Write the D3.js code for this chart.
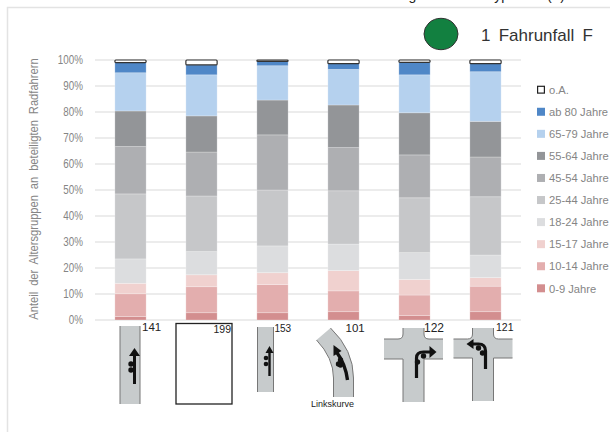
<!DOCTYPE html>
<html><head><meta charset="utf-8">
<script src="https://cdn.jsdelivr.net/npm/d3@7/dist/d3.min.js"></script>
<style>html,body{margin:0;padding:0;background:#fff;overflow:hidden}svg{display:block}</style>
</head><body><div id="c"></div>
<script>
const categories = ["141","199","153","101","122","121"];
const seriesNames = ["0-9 Jahre","10-14 Jahre","15-17 Jahre","18-24 Jahre","25-44 Jahre","45-54 Jahre","55-64 Jahre","65-79 Jahre","ab 80 Jahre","o.A."];
const age0_9   = [1.3,2.8,2.8,3.2,1.7,3.2];
const age10_14 = [8.8,10.0,10.8,8.0,7.9,9.8];
const age15_17 = [4.0,4.6,4.6,7.8,6.0,3.3];
const age18_24 = [9.4,8.9,10.3,10.2,10.3,8.7];
const age25_44 = [25.0,21.4,21.5,20.5,21.1,22.4];
const age45_54 = [18.2,16.9,21.2,16.6,16.5,15.3];
const age55_64 = [13.7,13.9,13.4,16.4,16.2,13.7];
const age65_79 = [14.7,15.8,13.2,13.7,14.6,19.1];
const age80    = [3.9,3.8,1.7,2.2,4.8,3.1];
const ageNA    = [1.0,1.9,0.5,1.4,0.9,1.4];
const allSeries = [age0_9,age10_14,age15_17,age18_24,age25_44,age45_54,age55_64,age65_79,age80,ageNA];
const colors = ["#d38e8f","#e3aeae","#f0d1cf","#dcdddf","#c6c7c9","#aeafb2","#939598","#b5d1ee","#4f87c7","#ffffff"];
const yTicks = [0,10,20,30,40,50,60,70,80,90,100];

const svg = d3.select("#c").append("svg").attr("width",610).attr("height",432);
const SANS = "'Liberation Sans',Arial,sans-serif";

// frame
svg.append("path").attr("d","M7.5,432V7.5H610").attr("fill","none").attr("stroke","#e3e3e3").attr("stroke-width",1.5);
// clipped page title above the frame
svg.append("text").attr("x",565).attr("y",0).attr("text-anchor","end").attr("font-family",SANS).attr("font-size",14).attr("fill","#222").text("Altersverteilung nach Unfalltyp Fälle (F)");

const x = d3.scaleBand().domain(categories).range([95,521]).paddingInner(0.56).paddingOuter(0.28);
const y = d3.scaleLinear().domain([0,100]).range([320,60]);

const narrow = 0.82;
const yAxis = svg.append("g").attr("transform","translate(95,0)")
  .call(d3.axisLeft(y).tickValues(yTicks).tickFormat(d=>d+"%").tickSize(0).tickPadding(12));
yAxis.select(".domain").remove();
yAxis.selectAll("text").attr("font-family",SANS).attr("font-size",12).attr("fill","#858585")
  .attr("x",-12/narrow).attr("transform",`scale(${narrow},1)`);
svg.append("g").selectAll("line").data(yTicks).join("line")
  .attr("x1",95).attr("x2",521).attr("y1",d=>y(d)).attr("y2",d=>y(d))
  .attr("stroke","#e6e6e6").attr("stroke-width",1.5);

svg.append("text").attr("transform","translate(38,189) rotate(-90) scale(0.93,1)").attr("text-anchor","middle")
  .attr("font-family",SANS).attr("font-size",12).attr("fill","#858585").attr("word-spacing",3)
  .text("Anteil der Altersgruppen an beteiligten Radfahrern");

// stacks
const rows = categories.map((c,i)=>{const r={cat:c};seriesNames.forEach((s,k)=>r[s]=allSeries[k][i]);return r;});
const stacked = d3.stack().keys(seriesNames)(rows);
svg.append("g").selectAll("g").data(stacked).join("g").each(function(s,k){
  const isNA = seriesNames[k]==="o.A.";
  d3.select(this).selectAll("rect").data(s).join("rect")
    .attr("x",d=>x(d.data.cat)).attr("width",x.bandwidth())
    .attr("y",d=>y(d[1])).attr("height",d=>y(d[0])-y(d[1]))
    .attr("fill",colors[k])
    .attr("rx",isNA?1:0)
    .attr("stroke",isNA?"#333":"#fff").attr("stroke-opacity",isNA?1:0.3).attr("stroke-width",isNA?1.2:0.8);
});

// legend
const legendOrder = seriesNames.map((n,i)=>({n,c:colors[i]})).reverse();
const ly = d3.scalePoint().domain(legendOrder.map(d=>d.n)).range([89.7,288.3]);
const lg = svg.append("g").selectAll("g").data(legendOrder).join("g").attr("transform",d=>`translate(537,${ly(d.n)})`);
lg.append("rect").attr("x",d=>d.n==="o.A."?0.6:0).attr("y",d=>d.n==="o.A."?-3.4:-4).attr("width",d=>d.n==="o.A."?6.8:8).attr("height",d=>d.n==="o.A."?6.8:8)
  .attr("fill",d=>d.c).attr("stroke",d=>d.n==="o.A."?"#222":"none").attr("stroke-width",1.2);
lg.append("text").attr("x",12).attr("y",4.2).attr("font-family",SANS).attr("font-size",11.2).attr("fill","#858585").text(d=>d.n);

// Fahrunfall marker
svg.append("ellipse").attr("cx",441).attr("cy",34).attr("rx",17).attr("ry",15.7).attr("fill","#128040").attr("stroke","#333").attr("stroke-width",1);
svg.append("text").attr("x",481).attr("y",41).attr("font-family",SANS).attr("font-size",17).attr("word-spacing",3.5).attr("fill","#333").text("1 Fahrunfall F");

// situation sketches below bars, in local coordinates around each bar centre
const ROAD="#c7cbcc", EDGE="#777", INK="#111";
function arrow(g,d,sw=3){
  g.append("path").attr("d",d).attr("fill","none").attr("stroke",INK).attr("stroke-width",sw);
}
function head(g,d){ g.append("path").attr("d",d).attr("fill",INK); }
function dots(g,pts,r=2.7){ g.selectAll(null).data(pts).join("circle").attr("cx",p=>p[0]).attr("cy",p=>p[1]).attr("r",r).attr("fill",INK); }
function straight(g,x0,x1,y0,y1){
  g.append("rect").attr("x",x0).attr("y",y0).attr("width",x1-x0).attr("height",y1-y0).attr("fill",ROAD);
  g.append("path").attr("d",`M${x0},${y0}V${y1}M${x1},${y0}V${y1}`).attr("stroke",EDGE).attr("stroke-width",1).attr("fill","none");
}
function crossing(g,vx0,vx1,vy0,vy1,hx0,hx1,hy0,hy1){
  const r=5;
  g.append("path").attr("d",`M${vx0},${vy0}H${vx1}V${hy0-r}Q${vx1},${hy0} ${vx1+r},${hy0}H${hx1}V${hy1}H${vx1}V${vy1}H${vx0}V${hy1}H${hx0}V${hy0}H${vx0-r}Q${vx0},${hy0} ${vx0},${hy0-r}Z`).attr("fill",ROAD);
  g.append("path").attr("d",`M${vx0},${vy0}V${hy0-r}Q${vx0},${hy0} ${vx0-r},${hy0}H${hx0}M${hx0},${hy1}H${vx0}V${vy1}M${vx1},${vy0}V${hy0-r}Q${vx1},${hy0} ${vx1+r},${hy0}H${hx1}M${hx1},${hy1}H${vx1}V${vy1}`).attr("fill","none").attr("stroke",EDGE).attr("stroke-width",1);
}
const sketches = [
 g=>{straight(g,-10.5,9.5,326,404);arrow(g,"M4,384V354");head(g,"M4,348L9.5,356H-1.5Z");dots(g,[[0.5,364],[0.5,370]]);},
 g=>{g.append("rect").attr("x",-25.5).attr("y",323.5).attr("width",56).attr("height",80.5).attr("fill","#fff").attr("stroke","#222").attr("stroke-width",1.3);},
 g=>{straight(g,-15,1,327,392);arrow(g,"M-3,376V352",2.4);head(g,"M-3,346L1,353H-7Z");dots(g,[[-6.5,358],[-6.5,364]],2.3);},
 g=>{
   g.append("path").attr("d","M-27,340L-13,328Q10,350 10,378V397H-10V378Q-10,358 -27,340Z").attr("fill",ROAD);
   g.append("path").attr("d","M-27,340Q-10,358 -10,378V397M-13,328Q10,350 10,378V397").attr("fill","none").attr("stroke",EDGE).attr("stroke-width",1);
   arrow(g,"M4,380Q2,364 -7,352",3.4);head(g,"M-10,345L-2,351L-10,356Z");dots(g,[[-3,360],[-3,365],[-5,364]]);
 },
 g=>{crossing(g,-11.5,9.5,328,402,-30.5,28.5,339,359);arrow(g,"M2,378V358Q2,352 9,352H17",3.2);head(g,"M22,352L15,346V358Z");dots(g,[[3,362],[9,356]]);},
 g=>{crossing(g,-13,8,328,401,-32,27,339,358);arrow(g,"M0,369V351Q0,344 -7,344H-14",3.2);head(g,"M-19,344L-12,339V349Z");dots(g,[[-3,353],[-7,348]]);}
];
const labelStyle = [
 {dx:11.5,y:331,size:11.5},{dx:12,y:333,size:10.5},{dx:2,y:332,size:10},
 {dx:2,y:332,size:11.5},{dx:9.5,y:332,size:12},{dx:10.5,y:331,size:10.5}];
const icons = svg.append("g").selectAll("g").data(categories).join("g")
  .attr("transform",d=>`translate(${x(d)+x.bandwidth()/2},0)`);
icons.each(function(d,i){
  const g=d3.select(this); sketches[i](g);
  g.append("text").attr("x",labelStyle[i].dx).attr("y",labelStyle[i].y).attr("font-family",SANS).attr("font-size",labelStyle[i].size).attr("fill","#222").text(d);
});
svg.append("text").attr("x",311).attr("y",407).attr("font-family",SANS).attr("font-size",9).attr("fill","#222").text("Linkskurve");
</script></body></html>
